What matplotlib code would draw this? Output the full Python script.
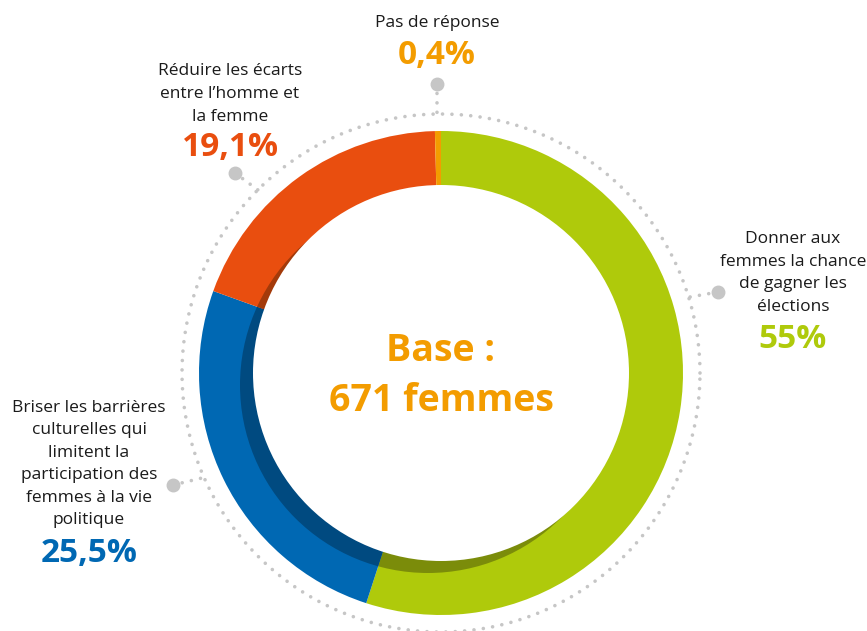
import numpy as np
import matplotlib
matplotlib.use('Agg')
import matplotlib.pyplot as plt
from matplotlib.patches import Circle

# Data
labels = ['Donner aux\nfemmes la chance\nde gagner les\nélections',
          'Briser les barrières\nculturelles qui\nlimitent la\nparticipation des\nfemmes à la vie\npolitique',
          'Réduire les écarts\nentre l\u2019homme et\nla femme',
          'Pas de réponse']
values = [55, 25.5, 19.1, 0.4]
pct_labels = ['55%', '25,5%', '19,1%', '0,4%']
colors = ['#afca0b', '#0068b3', '#e94e0f', '#f39c00']
dark_colors = ['#7b8c0a', '#004a80', '#a33a0a', '#a86c00']
base_text = 'Base :\n671 femmes'

W, H = 867, 631
fig = plt.figure(figsize=(W / 100, H / 100), dpi=100)
ax = fig.add_axes([0, 0, 1, 1])


def py(y):
    # pixel row (from top) -> data y
    return H - y


cx, cy = 441, py(373)
R_out, r_in = 242, 188

# Main ring
ax.pie(values, colors=colors, startangle=90, counterclock=False,
       radius=R_out, center=(cx, cy), wedgeprops=dict(linewidth=0))

# Shadow crescent (darker colours, clipped to offset circle)
shadow = Circle((cx - 13, cy - 12), r_in, transform=ax.transData)
dark, _ = ax.pie(values, colors=dark_colors, startangle=90, counterclock=False,
                 radius=R_out, center=(cx, cy), wedgeprops=dict(linewidth=0))
for w in dark:
    w.set_clip_on(True)
    w.set_clip_path(shadow)

# Hole
ax.add_patch(Circle((cx, cy), r_in, facecolor='white', edgecolor='none', zorder=3))

# Dotted circle
t = np.linspace(0, 2 * np.pi, 400)
ax.plot(cx + 259 * np.cos(t), cy + 259 * np.sin(t), color='#c6c6c6', lw=2.6,
        linestyle=(0, (0.01, 2.6)), dash_capstyle='round', zorder=1)

# Leader lines: (dot x, dot y), (end on circle)
leaders = [((718, 292), (690, 297)),
           ((173, 485), (202, 478)),
           ((235, 173), (258, 190)),
           ((437, 84), (437, 113))]
for (x0, y0), (x1, y1) in leaders:
    ax.plot([x0, x1], [py(y0), py(y1)], color='#c6c6c6', lw=2.6,
            linestyle=(0, (0.01, 2.6)), dash_capstyle='round', zorder=1)
    ax.plot(x0, py(y0), 'o', color='#c6c6c6', ms=9, zorder=2)

# Labels
font = 'Open Sans'
label_pos = [(793, 273), (89, 464), (230, 94), (437, 23)]
pct_pos = [(793, 340), (89, 553), (230, 148), (437, 55)]
for i in range(4):
    ax.text(label_pos[i][0], py(label_pos[i][1]), labels[i], ha='center', va='center',
            fontsize=12.5, family=font, color='#1a1a1a', linespacing=1.55)
    ax.text(pct_pos[i][0], py(pct_pos[i][1]), pct_labels[i], ha='center', va='center',
            fontsize=24, family=font, fontweight='bold', color=colors[i])

ax.text(cx, py(376), base_text, ha='center', va='center', fontsize=27, family=font,
        fontweight='bold', color='#f39c00', linespacing=1.4, zorder=4)

ax.set_xlim(0, W)
ax.set_ylim(0, H)
ax.set_aspect('equal')
ax.axis('off')

fig.savefig('out.png', dpi=100)
